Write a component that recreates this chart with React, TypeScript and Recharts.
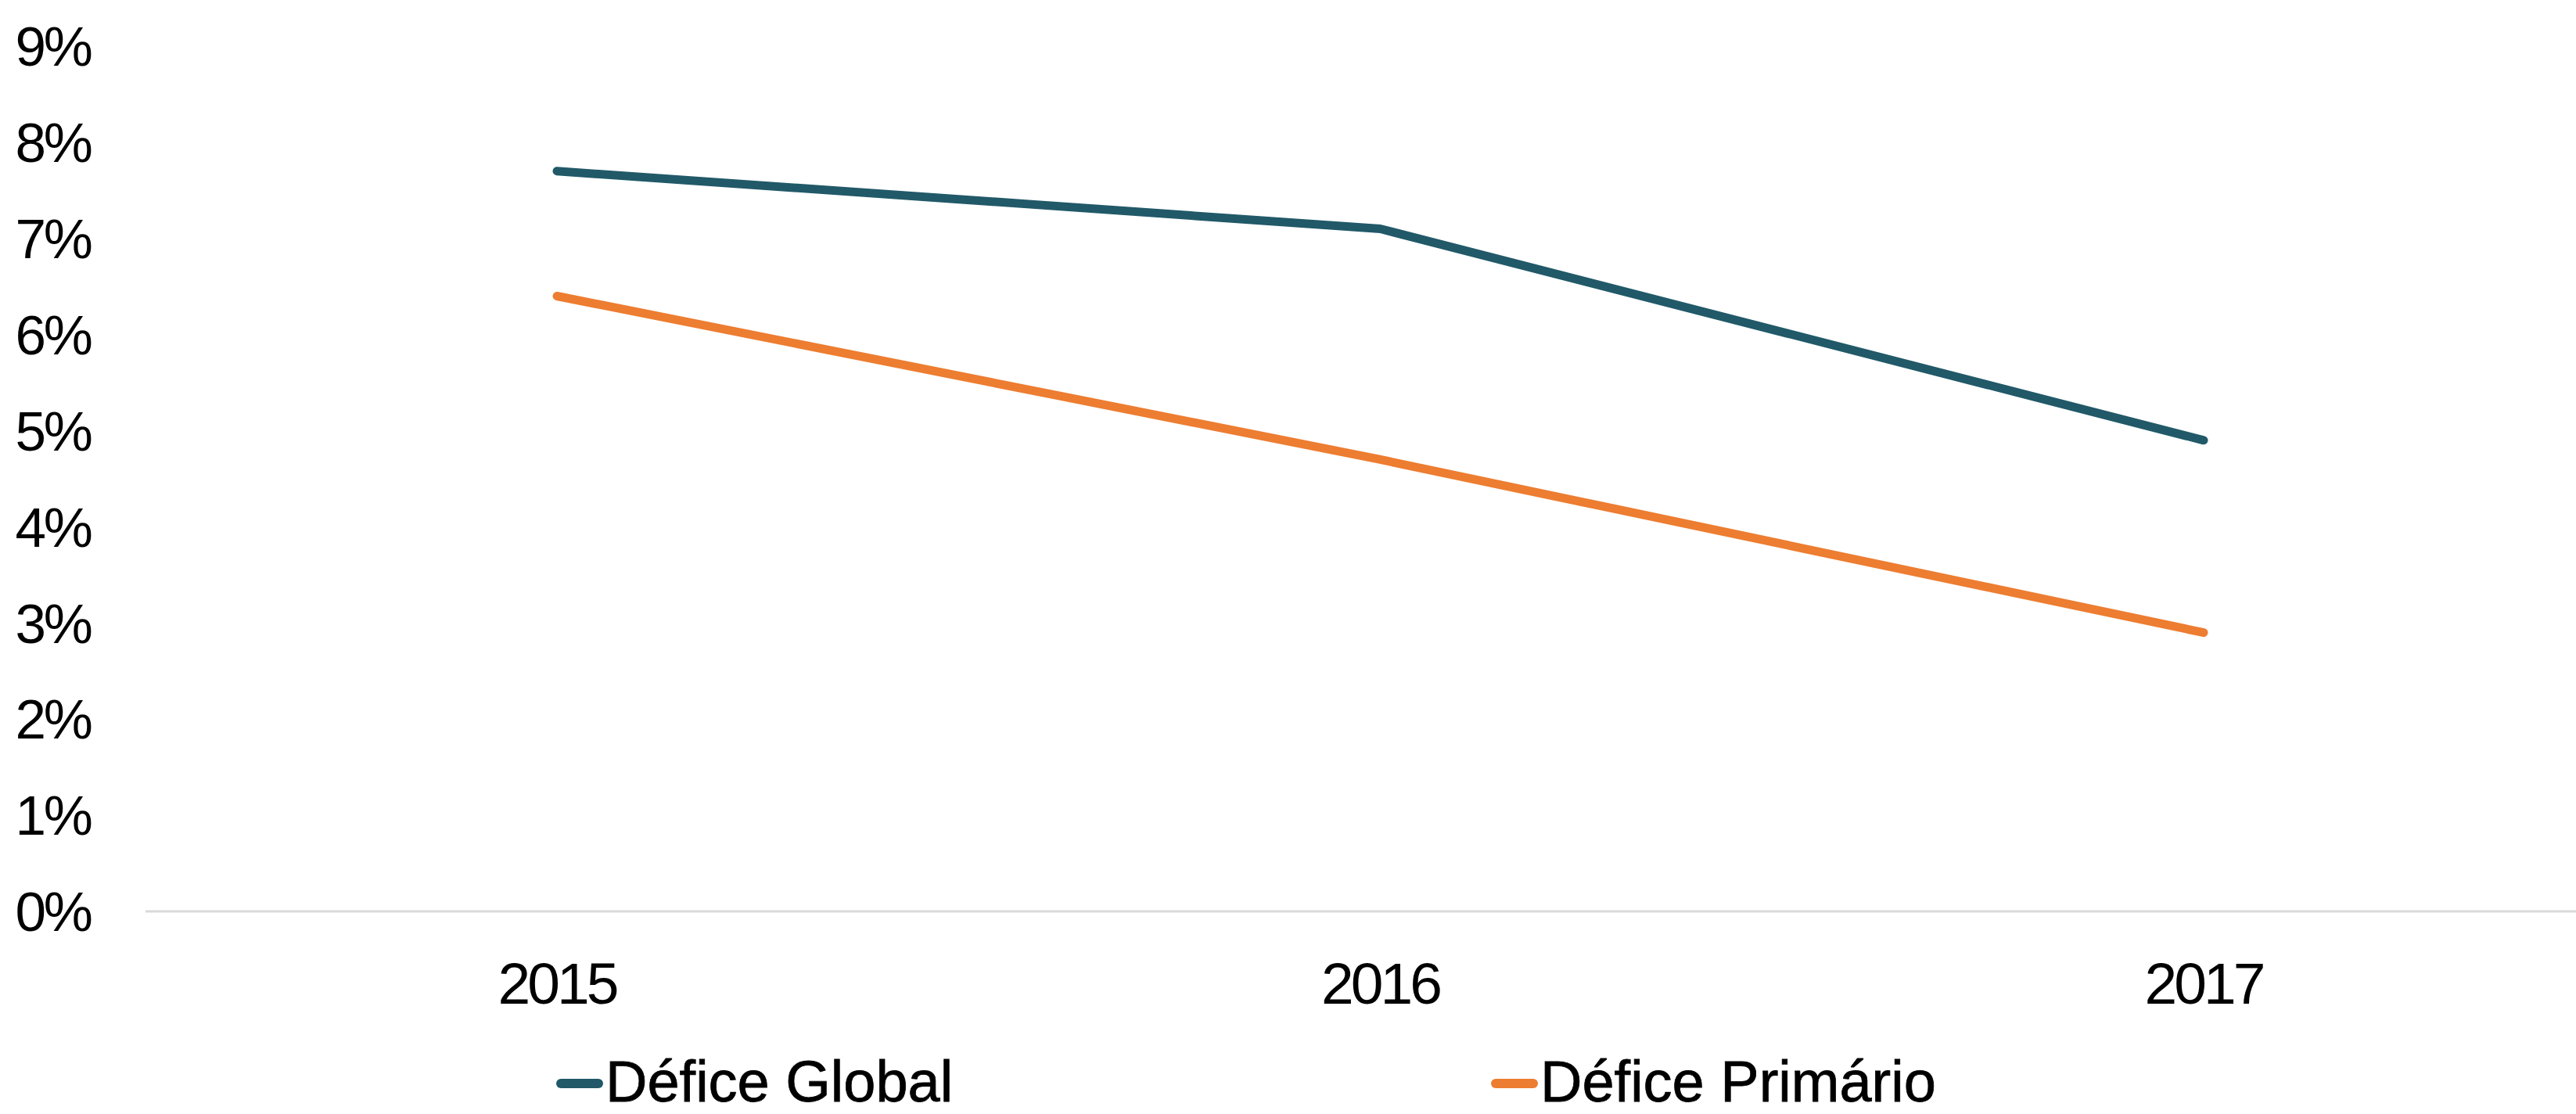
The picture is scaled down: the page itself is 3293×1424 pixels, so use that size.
import React from 'react';
import { LineChart, Line, XAxis, YAxis, Legend } from 'recharts';

const years = ['2015', '2016', '2017'];
const deficeGlobal = [7.7, 7.1, 4.9];
const deficePrimario = [6.4, 4.7, 2.9];
const yTicks = [0, 1, 2, 3, 4, 5, 6, 7, 8, 9];

const seriesNames = ['Défice Global', 'Défice Primário'];
const seriesColors = ['#215968', '#ED7D31'];

const data = years.map((y, i) => ({
  year: y,
  global: deficeGlobal[i],
  primario: deficePrimario[i],
}));

const TICK_FONT = '"Liberation Sans", Arial, sans-serif';
const LEGEND_FONT = '"Liberation Sans", Arial, sans-serif';

const LegendContent = () => {
  const lefts = [711, 1906];
  return (
    <div style={{ position: 'relative', width: '100%', height: 129 }}>
      {seriesNames.map((name, i) => (
        <div
          key={name}
          style={{
            position: 'absolute',
            left: lefts[i],
            top: 56,
            display: 'flex',
            alignItems: 'center',
            height: 64,
          }}
        >
          <span
            style={{
              display: 'inline-block',
              width: 60,
              height: 12,
              borderRadius: 6,
              background: seriesColors[i],
              marginTop: 4,
            }}
          />
          <span
            style={{
              fontFamily: LEGEND_FONT,
              fontSize: 74,
              lineHeight: '64px',
              color: '#000',
              marginLeft: 3,
              whiteSpace: 'nowrap',
              WebkitTextStroke: '0.8px #000',
            }}
          >
            {name}
          </span>
        </div>
      ))}
    </div>
  );
};

export default function App() {
  return (
    <div
      style={{
        position: 'absolute',
        left: 0,
        top: 0,
        width: 3293,
        height: 1424,
        overflow: 'hidden',
        background: '#fff',
      }}
    >
      <LineChart
        width={3360}
        height={1424}
        data={data}
        margin={{ top: 59, right: 17, bottom: 0, left: 0 }}
      >
        <XAxis
          dataKey="year"
          height={130}
          padding={{ left: 526, right: 526 }}
          tickSize={0}
          tickMargin={65}
          axisLine={{ stroke: '#d9d9d9', strokeWidth: 3 }}
          tickLine={false}
          tick={{ fill: '#000', fontSize: 75, fontFamily: TICK_FONT, letterSpacing: -4 }}
        />
        <YAxis
          width={186}
          domain={[0, 9]}
          ticks={yTicks}
          interval={0}
          tickFormatter={(v) => `${v}%`}
          axisLine={false}
          tickLine={false}
          tickSize={0}
          tickMargin={70}
          tick={{ fill: '#000', fontSize: 71, fontFamily: TICK_FONT, letterSpacing: -3 }}
        />
        <Legend
          verticalAlign="bottom"
          wrapperStyle={{ left: 0, bottom: 0, width: 3360, height: 129 }}
          content={<LegendContent />}
        />
        <Line
          type="linear"
          dataKey="global"
          name={seriesNames[0]}
          stroke={seriesColors[0]}
          strokeWidth={11}
          strokeLinecap="round"
          strokeLinejoin="round"
          dot={false}
          activeDot={false}
          isAnimationActive={false}
        />
        <Line
          type="linear"
          dataKey="primario"
          name={seriesNames[1]}
          stroke={seriesColors[1]}
          strokeWidth={11}
          strokeLinecap="round"
          strokeLinejoin="round"
          dot={false}
          activeDot={false}
          isAnimationActive={false}
        />
      </LineChart>
    </div>
  );
}
